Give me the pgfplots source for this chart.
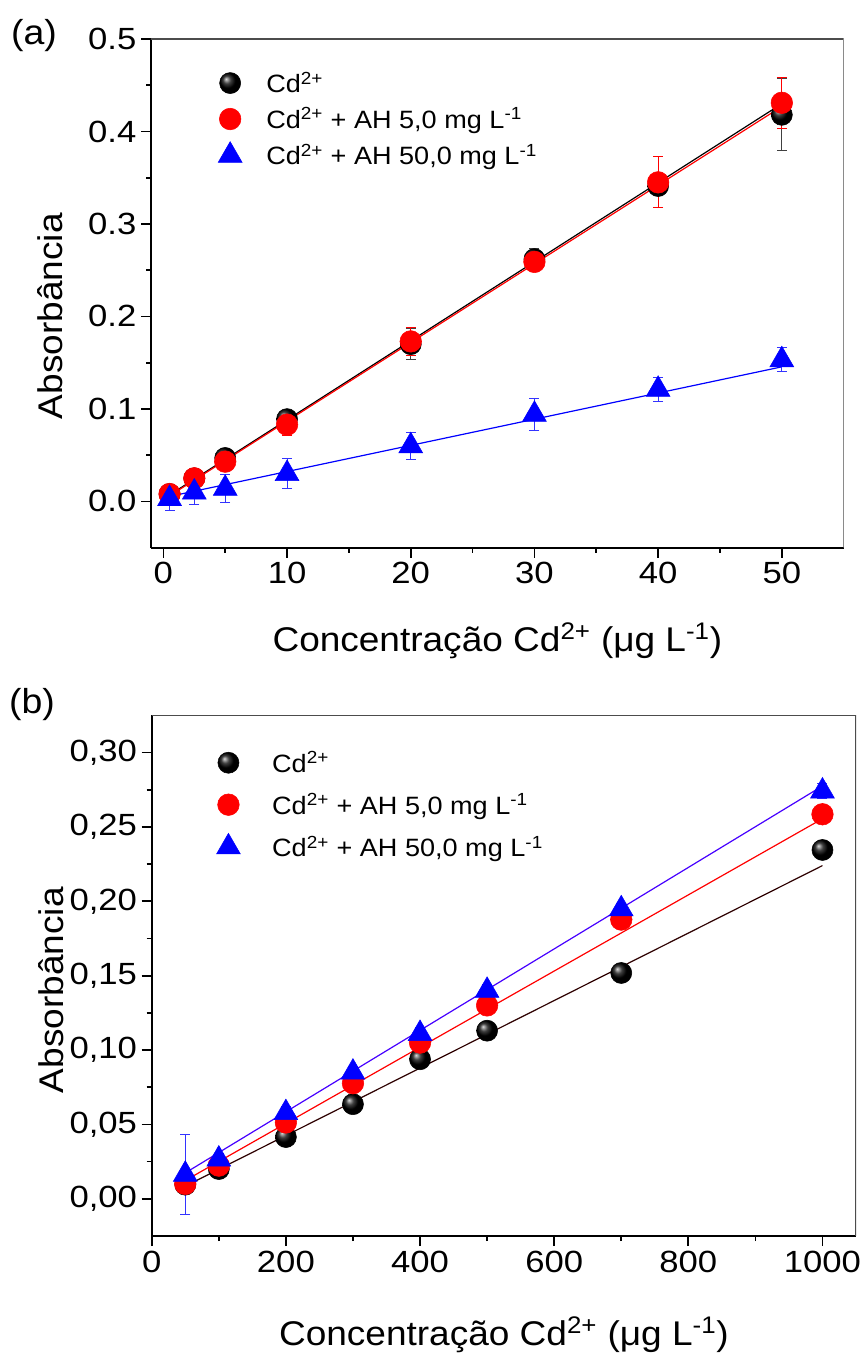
\documentclass[border=0pt]{standalone}
\usepackage{fontspec}
\setmainfont{Liberation Sans}[FakeStretch=1.08]
\newfontfamily\tickfont{Liberation Sans}[FakeStretch=1.13]
\usepackage{pgfplots}
\usepackage{pgfplotstable}
\pgfplotsset{compat=1.18}

\definecolor{fitdark}{RGB}{45,0,0}
\definecolor{fitpurple}{RGB}{70,0,255}

% ---------------- panel (a) data ----------------
\pgfplotstableread{
x y e
0.5 0.008 0.003
2.5 0.025 0.004
5 0.047 0.004
10 0.089 0.004
20 0.170 0.017
30 0.262 0.012
40 0.341 0.006
50 0.418 0.039
}\blackA
\pgfplotstableread{
x y e
0.5 0.008 0.002
2.5 0.025 0.006
5 0.043 0.005
10 0.083 0.012
20 0.173 0.015
30 0.259 0.004
40 0.345 0.0276
50 0.431 0.0276
}\redA
\pgfplotstableread{
x y e
0.5 0.003 0.013
2.5 0.010 0.013
5 0.014 0.015
10 0.030 0.016
20 0.060 0.015
30 0.094 0.017
40 0.121 0.013
50 0.153 0.013
}\blueA
\pgfplotstableread{
x y
0.5 0.007
50 0.430
}\fitblackA
\pgfplotstableread{
x y
0.5 0.006
50 0.427
}\fitredA
\pgfplotstableread{
x y
0.5 0.0054
50 0.1455
}\fitblueA

% ---------------- panel (b) data ----------------
\pgfplotstableread{
x y e
50 0.0095 0.002
100 0.020 0.002
200 0.0415 0.002
300 0.0636 0.002
400 0.0938 0.002
500 0.113 0.002
700 0.1518 0.002
1000 0.2345 0.002
}\blackB
\pgfplotstableread{
x y e
50 0.010 0.002
100 0.0223 0.003
200 0.0513 0.003
300 0.0777 0.003
400 0.105 0.003
500 0.130 0.003
700 0.1877 0.003
1000 0.2585 0.003
}\redB
\pgfplotstableread{
x y e
50 0.0164 0.0271
100 0.0266 0.004
200 0.0578 0.004
300 0.085 0.004
400 0.111 0.004
500 0.140 0.004
700 0.1948 0.004
1000 0.274 0.005
}\blueB
\pgfplotstableread{
x y
50 0.0085
1000 0.224
}\fitblackB
\pgfplotstableread{
x y
50 0.0123
1000 0.2555
}\fitredB
\pgfplotstableread{
x y
50 0.0174
1000 0.2775
}\fitblueB

\pgfplotsset{
  myaxis/.style={
    scale only axis,
    axis x line*=bottom, axis y line*=left,
    axis line style={line width=1.3pt, black},
    tick align=outside,
    major tick length=7.5pt, minor tick length=3.75pt,
    every tick/.style={black, line width=1.3pt},
    minor tick num=1,
    scaled ticks=false,
    tick label style={font=\tickfont\fontsize{23}{27}\selectfont, black},
    label style={font=\fontsize{25.7}{31}\selectfont},
    /pgf/number format/assume math mode=true,
    /pgf/number format/1000 sep={},
    legend cell align=left,
  },
  legimg/.style={
    legend image code/.code={\path[draw=none,fill=none] (0cm,0cm) (#1,0cm); \draw[mark repeat=2,mark phase=2,##1] plot coordinates {(0cm,0cm) (0.4cm,0cm) (0.8cm,0cm)};},
  },
  ballpts/.style={only marks, mark=ball, mark size=7.9pt, ball color=black,
    error bars/.cd, y dir=both, y explicit,
    error bar style={black!75, line width=0.7pt},
    error mark options={rotate=90, black!75, mark size=3.75pt, line width=0.7pt}},
  redpts/.style={only marks, mark=*, mark size=8.1pt, color=red, mark options={fill=red, draw=red},
    error bars/.cd, y dir=both, y explicit,
    error bar style={red, line width=0.7pt},
    error mark options={rotate=90, red, mark size=3.75pt, line width=0.7pt}},
  bluepts/.style={only marks, mark=triangle*, mark size=10.3pt, color=blue, mark options={fill=blue, draw=blue},
    error bars/.cd, y dir=both, y explicit,
    error bar style={blue!80, line width=0.7pt},
    error mark options={rotate=90, blue!80, mark size=3.75pt, line width=0.7pt}},
}

\begin{document}
\begin{tikzpicture}
\path[use as bounding box] (0,0) rectangle (645.75pt,1016.25pt);

% ================= (a) =================
\begin{axis}[myaxis, legimg=1.3cm,
  at={(113.25pt,605.5pt)}, anchor=south west,
  width=519.5pt, height=381.5pt,
  xmin=-1, xmax=55, ymin=-0.05, ymax=0.5,
  xtick={0,10,20,30,40,50},
  ytick={0,0.1,0.2,0.3,0.4,0.5},
  yticklabel style={/pgf/number format/.cd, fixed, fixed zerofill, precision=1},
  xlabel={Concentração Cd\textsuperscript{2+} (μg L\textsuperscript{-1})},
  ylabel={Absorbância},
  xlabel style={at={(axis description cs:0.5,-0.183)}, anchor=center},
  ylabel style={at={(axis description cs:-0.146,0.455)}, anchor=center},
  legend style={draw=none, fill=none, at={(axis description cs:0.092,0.94)}, anchor=north west,
    inner sep=0pt, row sep=7pt, font=\fontsize{18.8}{22}\selectfont,
    nodes={inner sep=1.5pt}},
]
\addplot[black, line width=0.9pt, forget plot] table[x=x,y=y]{\fitblackA};
\addplot[red, line width=0.9pt, forget plot] table[x=x,y=y]{\fitredA};
\addplot[blue, line width=0.9pt, forget plot] table[x=x,y=y]{\fitblueA};
\addplot[ballpts] table[x=x,y=y,y error=e]{\blackA};
\addlegendentry{Cd\textsuperscript{2+}}
\addplot[redpts] table[x=x,y=y,y error=e]{\redA};
\addlegendentry{Cd\textsuperscript{2+} + AH 5,0 mg L\textsuperscript{-1}}
\addplot[bluepts] table[x=x,y=y,y error=e]{\blueA};
\addlegendentry{Cd\textsuperscript{2+} + AH 50,0 mg L\textsuperscript{-1}}
\draw[line width=0.9pt, black!70] (rel axis cs:0,1) -- (rel axis cs:1,1) -- (rel axis cs:1,0);
\end{axis}

% ================= (b) =================
\begin{axis}[myaxis, legimg=1.5cm,
  at={(113.8pt,89.25pt)}, anchor=south west,
  width=528.2pt, height=390.5pt,
  xmin=0, xmax=1050, ymin=-0.025, ymax=0.325,
  xtick={0,200,400,600,800,1000},
  ytick={0,0.05,0.1,0.15,0.2,0.25,0.3},
  yticklabel style={/pgf/number format/.cd, fixed, fixed zerofill, precision=2, use comma},
  xlabel={Concentração Cd\textsuperscript{2+} (μg L\textsuperscript{-1})},
  ylabel={Absorbância},
  xlabel style={at={(axis description cs:0.5,-0.19)}, anchor=center},
  ylabel style={at={(axis description cs:-0.143,0.472)}, anchor=center},
  legend style={draw=none, fill=none, at={(axis description cs:0.087,0.935)}, anchor=north west,
    inner sep=0pt, row sep=11.5pt, font=\fontsize{18.8}{22}\selectfont,
    nodes={inner sep=1.5pt}},
]
\addplot[fitdark, line width=0.9pt, forget plot] table[x=x,y=y]{\fitblackB};
\addplot[red, line width=0.9pt, forget plot] table[x=x,y=y]{\fitredB};
\addplot[fitpurple, line width=0.9pt, forget plot] table[x=x,y=y]{\fitblueB};
\addplot[ballpts] table[x=x,y=y,y error=e]{\blackB};
\addlegendentry{Cd\textsuperscript{2+}}
\addplot[redpts] table[x=x,y=y,y error=e]{\redB};
\addlegendentry{Cd\textsuperscript{2+} + AH 5,0 mg L\textsuperscript{-1}}
\addplot[bluepts] table[x=x,y=y,y error=e]{\blueB};
\addlegendentry{Cd\textsuperscript{2+} + AH 50,0 mg L\textsuperscript{-1}}
\draw[line width=0.9pt, black!70] (rel axis cs:0,1) -- (rel axis cs:1,1) -- (rel axis cs:1,0);
\end{axis}

\node[font=\fontsize{26}{30}\selectfont] at (25.5pt,989.25pt) {(a)};
\node[font=\fontsize{26}{30}\selectfont] at (24pt,487.5pt) {(b)};
\end{tikzpicture}
\end{document}
